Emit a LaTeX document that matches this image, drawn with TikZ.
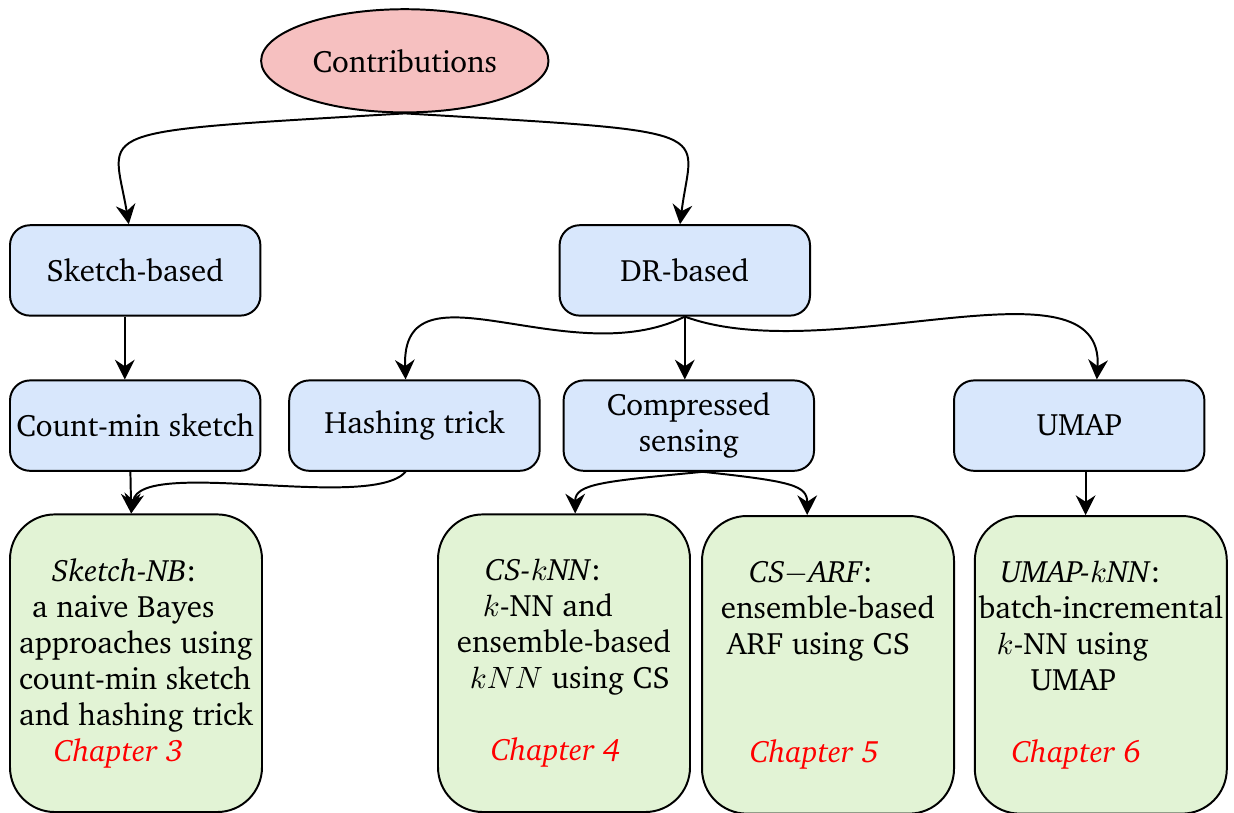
\documentclass[tikz,border=0pt]{standalone}
\usepackage[T1]{fontenc}
\usepackage{charter}
\usepackage{tikz}
\usetikzlibrary{calc,arrows.meta,shapes.geometric}
\definecolor{pinkfill}{RGB}{246,192,192}
\definecolor{bluefill}{RGB}{216,231,252}
\definecolor{greenfill}{RGB}{226,243,213}
\newcommand{\linew}{0.7pt}
\newcommand{\chapcolor}{red}
\tikzset{
  every node/.style={font=\fontsize{11}{12.8}\selectfont},
  topnode/.style={draw, ellipse, fill=pinkfill, line width=\linew, minimum width=3.59cm, minimum height=1.29cm},
  bluebox/.style={draw, rectangle, rounded corners=0.25cm, fill=bluefill, line width=\linew, minimum width=3.13cm, minimum height=1.13cm, align=center, inner sep=1pt},
  greenbox/.style={draw, rectangle, rounded corners=0.56cm, fill=greenfill, line width=\linew, minimum width=3.15cm, minimum height=3.72cm, align=left, inner sep=0pt},
  link/.style={-{Stealth[length=7pt,width=7pt,inset=2.3pt]}, line width=\linew},
}

\begin{document}
\begin{tikzpicture}
\useasboundingbox (0,0) rectangle (15.425,-10.15);
%level 0
\node (1) at (5.06, -0.76) [topnode] {Contributions};
%level 1
\node (2) at (1.69, -3.38) [bluebox] {Sketch-based};
\node (3) at (8.56, -3.38) [bluebox] {DR-based};
%level 2
\node (4) at (1.69, -5.32) [bluebox] {Count-min sketch};
\node (5) at (5.18, -5.32) [bluebox] {Hashing trick};
\node (6) at (8.61, -5.32) [bluebox] {Compressed\\sensing};
\node (7) at (13.49, -5.32) [bluebox] {UMAP};
%level 3
\node (8) at (1.70, -8.29) [greenbox] {\hspace*{11.7pt}\textit{Sketch-NB}:\\
\hspace*{4.6pt}a naive Bayes\\
approaches using\\
count-min sketch\\
and hashing trick\\
\hspace*{12.4pt}\textcolor{\chapcolor}{\textit{Chapter 3}}};
\node (9) at (7.05, -8.29) [greenbox] {\hspace*{10pt}\textit{CS-$k$NN}:\\
\hspace*{9.2pt}$k$-NN and\\
ensemble-based\\
\hspace*{4.6pt}$kNN$ using CS\\[12.8pt]
\hspace*{12.1pt}\textcolor{\chapcolor}{\textit{Chapter 4}}};
\node (10) at (10.35, -8.31) [greenbox] {\hspace*{10pt}\textit{CS}$-$\textit{ARF}:\\
ensemble-based\\
\hspace*{2.1pt}ARF using CS\\[25.6pt]
\hspace*{10.3pt}\textcolor{\chapcolor}{\textit{Chapter 5}}};
\node (11) at (13.76, -8.31) [greenbox] {\hspace*{7.8pt}\textit{UMAP-$k$NN}:\\
batch-incremental\\
\hspace*{6.4pt}$k$-NN using\\
\hspace*{18.5pt}UMAP\\[12.8pt]
\hspace*{11.7pt}\textcolor{\chapcolor}{\textit{Chapter 6}}};
%contributions
\draw[link] (1.south) .. controls +(-4.06,-0.24) and +(-0.2,1.21) .. ($(2.north)+(-0.08,0)$);
\draw[link] (1.south) .. controls +(4.06,-0.24) and +(0.15,1.21) .. ($(3.north)+(-0.06,0)$);
%sketch
\draw[link] ($(2.south)+(-0.13,0)$) -- ($(4.north)+(-0.13,0)$);
\draw[link] ($(4.south)+(-0.06,0)$) -- ($(8.north)+(-0.06,0)$);
\draw[link] ($(5.south)+(-0.11,0)$) .. controls +(-0.44,-0.5) and +(0.11,0.71) .. ($(8.north)+(-0.06,0)$);
%dr
\draw[link] (3.south) .. controls +(-1.45,-0.72) and +(-0.06,1.54) .. ($(5.north)+(-0.11,0)$);
\draw[link] (3.south) -- (3.south |- 6.north);
\draw[link] (3.south) .. controls +(1.8,-0.66) and +(0.1,1.6) .. ($(7.north)+(0.22,0)$);
%cs
\draw[link] ($(6.south)+(0.175,0)$) .. controls +(-1.25,-0.12) and +(0,0.37) .. ($(9.north)+(0.14,0)$);
\draw[link] ($(6.south)+(0.175,0)$) .. controls +(1.12,-0.12) and +(0,0.37) .. ($(10.north)+(-0.26,0)$);
%umap
\coordinate (u) at ($(7.south)+(0.08,0)$);
\draw[link] (u) -- (u |- 11.north);
\end{tikzpicture}
\end{document}
